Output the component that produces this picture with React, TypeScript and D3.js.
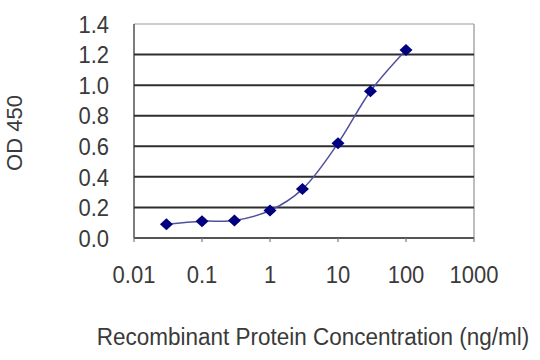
import React from "react";
import * as d3 from "d3";

const concentrations = [0.03, 0.1, 0.3, 1, 3, 10, 30, 100];
const odValues = [0.09, 0.11, 0.115, 0.18, 0.32, 0.62, 0.96, 1.23];
const yTicks = [0, 0.2, 0.4, 0.6, 0.8, 1.0, 1.2, 1.4];
const xTicks = [0.01, 0.1, 1, 10, 100, 1000];
const xTickLabels = ["0.01", "0.1", "1", "10", "100", "1000"];
const xTitle = "Recombinant Protein Concentration (ng/ml)";
const yTitle = "OD 450";

export default function App() {
  const W = 540, H = 360;
  const left = 134, right = 474, top = 24, bottom = 238;
  const x = d3.scaleLog().domain([0.01, 1000]).range([left, right]);
  const y = d3.scaleLinear().domain([0, 1.4]).range([bottom, top]);
  const pts = concentrations.map((c, i) => [x(c), y(odValues[i])] as [number, number]);
  const line = d3.line().curve(d3.curveCatmullRom.alpha(0.5))(pts) || "";
  const diamond = "M0,-6L6.5,0L0,6L-6.5,0Z";
  const font = "Arial, 'Liberation Sans', sans-serif";
  const textColor = "#3a3a3a";
  return (
    <svg width={W} height={H} style={{ position: "absolute", left: 0, top: 0, background: "#fff" }}>
      <rect x={0} y={0} width={W} height={H} fill="#fff" />
      {/* plot border */}
      <line x1={left} x2={right} y1={top} y2={top} stroke="#bdbdbd" strokeWidth={1.5} />
      <line x1={right} x2={right} y1={top} y2={bottom} stroke="#a8a8a8" strokeWidth={1.5} />
      <line x1={left} x2={left} y1={top} y2={bottom} stroke="#6e6e6e" strokeWidth={1.8} />
      {/* gridlines */}
      {yTicks.filter(t => t > 0 && t < 1.4).map(t => (
        <line key={t} x1={left} x2={right} y1={y(t)} y2={y(t)} stroke="#2e2e2e" strokeWidth={2} />
      ))}
      {/* x axis */}
      <line x1={left} x2={right} y1={bottom} y2={bottom} stroke="#555" strokeWidth={1.8} />
      {xTicks.map(t => (
        <line key={t} x1={x(t)} x2={x(t)} y1={bottom} y2={bottom + 4} stroke="#777" strokeWidth={1.2} />
      ))}
      {/* y tick labels */}
      {yTicks.map(t => (
        <text key={t} x={109} y={y(t)} dy="0.36em" textAnchor="end" fontFamily={font} fontSize={22}
          fill={textColor} transform={`translate(0 ${y(t)}) scale(1 1.1) translate(0 ${-y(t)})`}>
          {t.toFixed(1)}
        </text>
      ))}
      {/* x tick labels */}
      {xTicks.map((t, i) => (
        <text key={t} x={x(t)} y={283} textAnchor="middle" fontFamily={font} fontSize={22}
          fill={textColor} transform={`translate(0 283) scale(1 1.1) translate(0 -283)`}>
          {xTickLabels[i]}
        </text>
      ))}
      {/* titles */}
      <text x={313} y={345} textAnchor="middle" fontFamily={font} fontSize={22.5} fill={textColor}
        transform={`translate(0 345) scale(1 1.05) translate(0 -345)`}>
        {xTitle}
      </text>
      <text x={0} y={0} textAnchor="middle" fontFamily={font} fontSize={22} fill={textColor}
        transform={`translate(22 133) rotate(-90)`}>
        {yTitle}
      </text>
      {/* curve */}
      <path d={line} fill="none" stroke="#5050a0" strokeWidth={1.5} />
      {pts.map((p, i) => (
        <path key={i} d={diamond} transform={`translate(${p[0]},${p[1]})`} fill="#000080" />
      ))}
    </svg>
  );
}
